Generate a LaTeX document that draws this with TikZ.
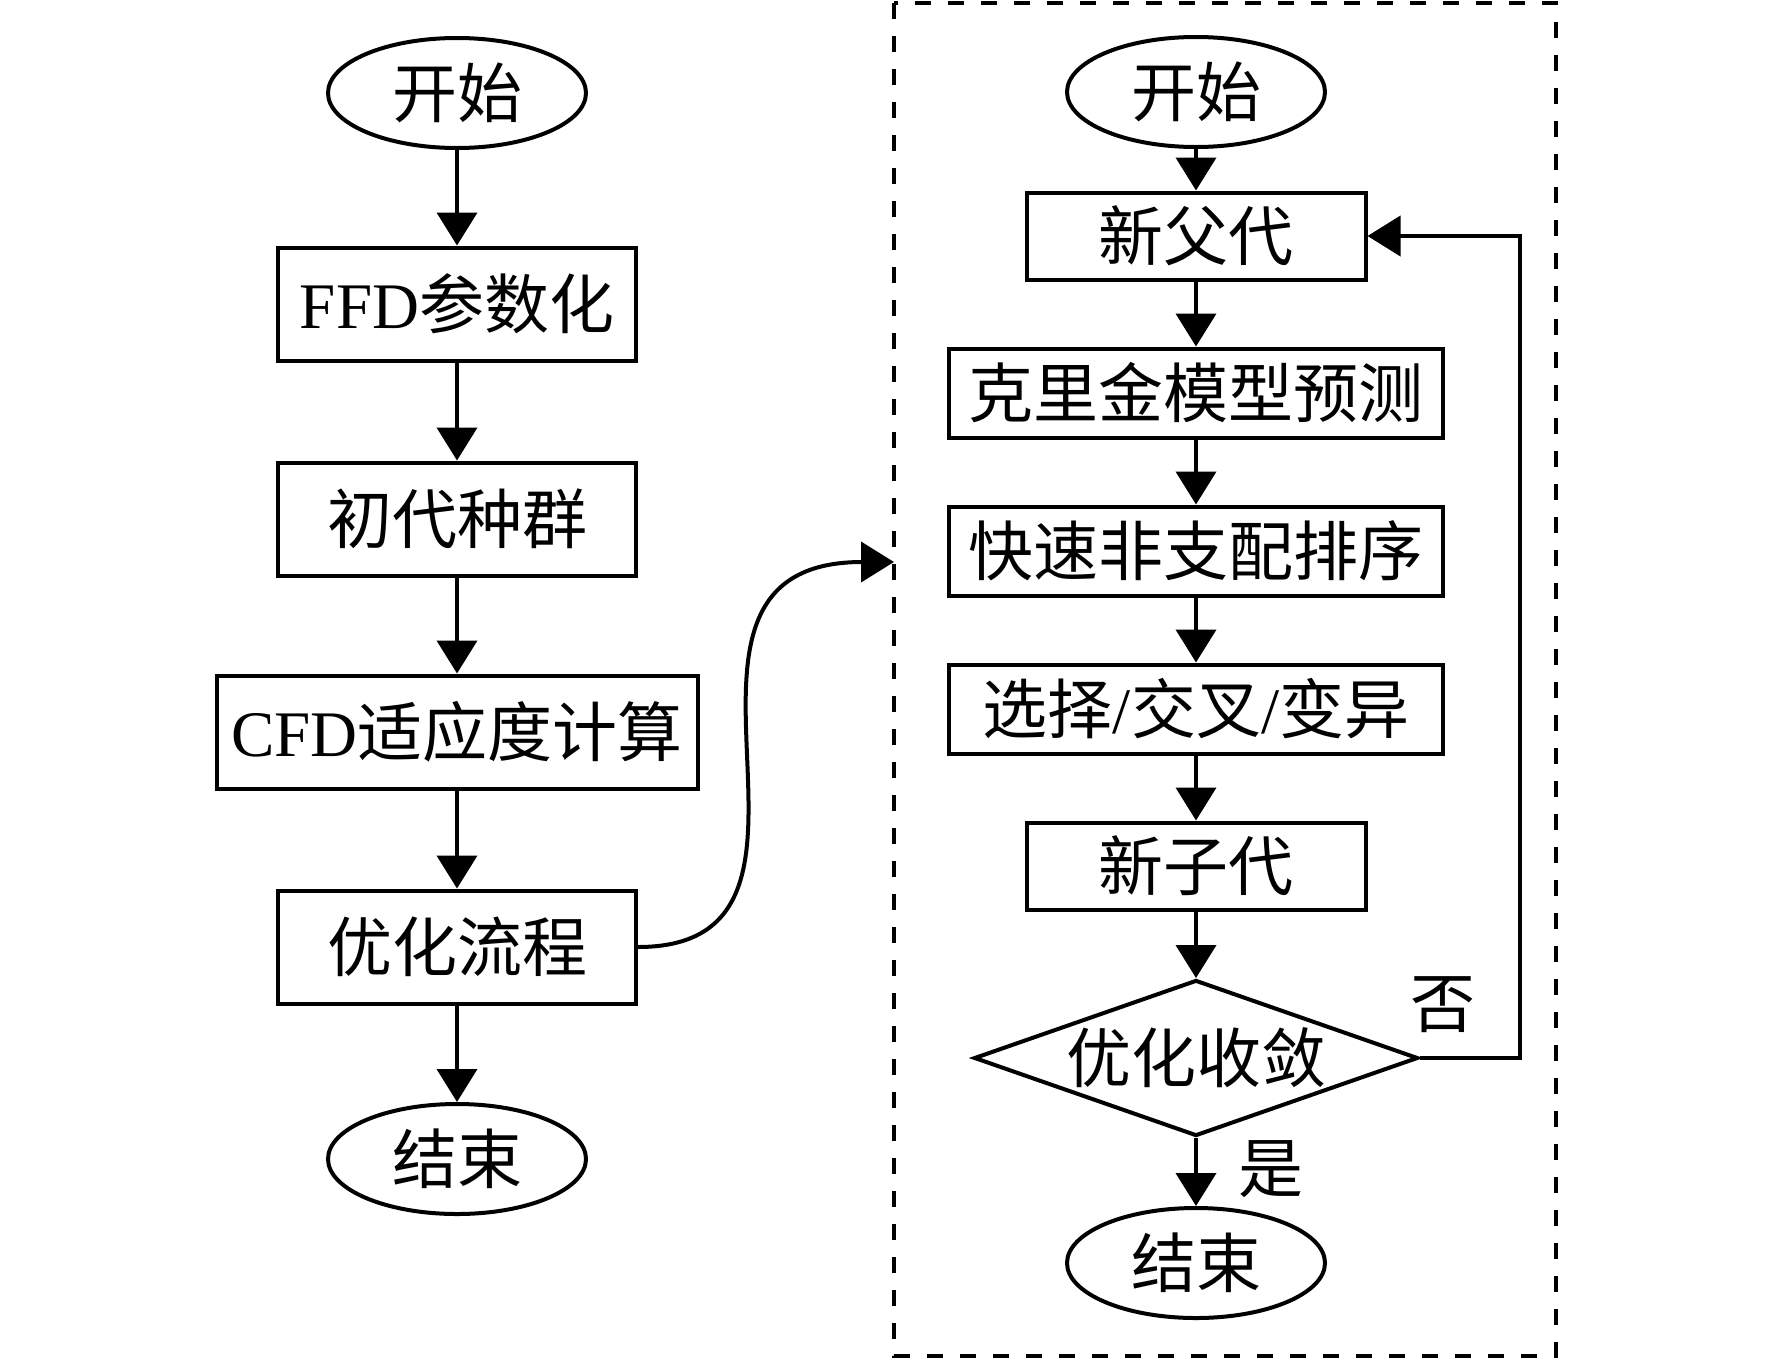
\documentclass[tikz,border=0pt]{standalone}
\usepackage{fontspec}
\setmainfont{Liberation Serif}
\newfontfamily\cjk{Noto Sans CJK SC}
\usetikzlibrary{shapes.geometric,arrows.meta}
\newcommand\zh[1]{{\cjk #1}}
\begin{document}
\begin{tikzpicture}[x=1pt,y=-1pt,
  every node/.style={font=\fontsize{65}{72}\selectfont, inner sep=0pt},
  lw/.style={line width=4pt},
  term/.style={ellipse, draw, lw, minimum width=258pt, minimum height=110pt},
  boxL/.style={rectangle, draw, lw, minimum width=358pt, minimum height=113pt},
  boxC/.style={rectangle, draw, lw, minimum width=481pt, minimum height=113pt},
  boxS/.style={rectangle, draw, lw, minimum width=339pt, minimum height=87pt},
  boxB/.style={rectangle, draw, lw, minimum width=494pt, minimum height=89pt},
  decide/.style={diamond, draw, lw, aspect=2.82, minimum width=444pt, minimum height=156pt},
  arr/.style={lw, -{Triangle[length=33pt,width=40pt]}},
  frame/.style={line width=4pt, dash pattern=on 16pt off 17pt}
]
\useasboundingbox (0,0) rectangle (1772,1360);

% dashed frame
\draw[frame] (894,3) rectangle (1556,1356);
\coordinate (entry) at (894,562);

% left column
\node[term] (st1) at (457,93) {\zh{开始}};
\node[boxL] (ffd) at (457,304) {FFD\zh{参数化}};
\node[boxL] (init) at (457,519) {\zh{初代种群}};
\node[boxC] (cfd) at (457,732) {CFD\zh{适应度计算}};
\node[boxL] (opt) at (457,947) {\zh{优化流程}};
\node[term] (end1) at (457,1159) {\zh{结束}};

\draw[arr] (st1) -- (ffd);
\draw[arr] (ffd) -- (init);
\draw[arr] (init) -- (cfd);
\draw[arr] (cfd) -- (opt);
\draw[arr] (opt) -- (end1);

% right column
\node[term] (st2) at (1196,92) {\zh{开始}};
\node[boxS] (fp) at (1196,236) {\zh{新父代}};
\node[boxB] (krig) at (1196,393) {\zh{克里金模型预测}};
\node[boxB] (sort) at (1196,551) {\zh{快速非支配排序}};
\node[boxB] (sel) at (1196,709) {\zh{选择}/\zh{交叉}/\zh{变异}};
\node[boxS] (child) at (1196,866) {\zh{新子代}};
\node[decide] (dia) at (1196,1058) {\zh{优化收敛}};
\node[term] (end2) at (1196,1263) {\zh{结束}};

\draw[arr] (st2) -- (fp);
\draw[arr] (fp) -- (krig);
\draw[arr] (krig) -- (sort);
\draw[arr] (sort) -- (sel);
\draw[arr] (sel) -- (child);
\draw[arr] (child) -- (dia);
\draw[arr] (dia) -- (end2);

\coordinate (loop) at (1520,1058);
\draw[arr] (dia.east) -- (loop) |- (fp.east);

\node (no) at (1443,1005) {\zh{否}};
\node (yes) at (1271,1169) {\zh{是}};

% link between the two parts
\draw[arr] (opt.east) .. controls +(236,0) and +(-276,0) .. (entry);
\end{tikzpicture}
\end{document}
